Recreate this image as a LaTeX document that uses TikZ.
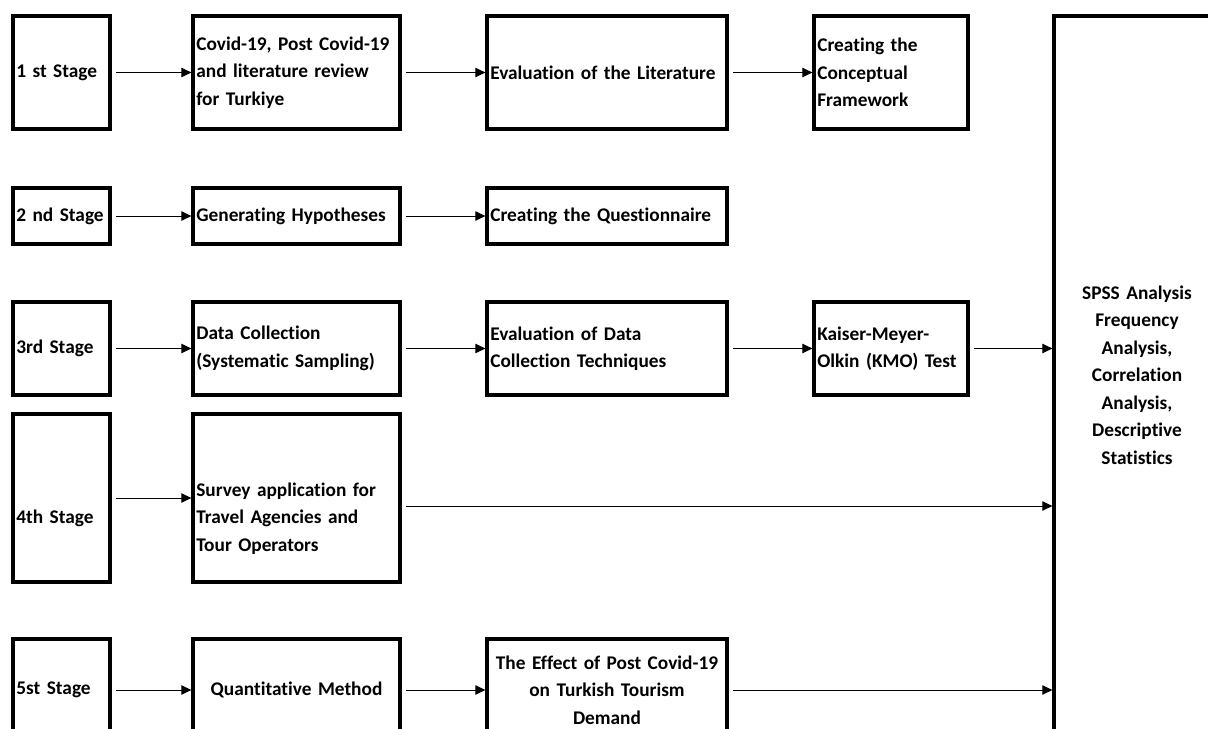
\documentclass[tikz,border=0pt]{standalone}
\usepackage{fontspec}
\setmainfont[Ligatures=NoCommon]{Carlito}
\usetikzlibrary{arrows.meta}

\tikzset{
	flowbox/.style={draw, line width=2.4pt, inner xsep=2.5pt, inner ysep=0pt, align=left,
		font=\bfseries\fontsize{14.5pt}{20.6pt}\selectfont},
	midbox/.style={flowbox, align=center},
	lowtext/.style={text height=41pt},
	flowarrow/.style={-{Triangle[length=7.5pt,width=7pt]}, line width=0.75pt, shorten <=3.5pt}}

\begin{document}
\begin{tikzpicture}[x=0.75pt,y=0.75pt,yscale=-1]
	\useasboundingbox (0,0) rectangle (1208,729);
	\clip (0,0) rectangle (1208,729);
	
	%Stage 1
	\node [flowbox, text width=67.75pt, minimum height=84.75pt] (s1) at (61.5,72.5) {1 st Stage};
	\node [flowbox, text width=150.25pt, minimum height=84.75pt] (a1) at (296.5,72.5) {Covid-19, Post Covid-19\\and literature review\\for Turkiye};
	\node [flowbox, text width=175pt, minimum height=84.75pt] (b1) at (607,72.5) {Evaluation of the Literature};
	\node [flowbox, text width=110.5pt, minimum height=84.75pt] (c1) at (891,72.5) {Creating the\\Conceptual\\Framework};
	%SPSS
	\node [midbox, text width=119.5pt, minimum height=538.5pt] (spss) at (1137,375) {SPSS Analysis\\Frequency\\Analysis,\\Correlation\\Analysis,\\Descriptive\\Statistics};
	
	%Stage 2
	\node [flowbox, text width=67.75pt, minimum height=42pt] (s2) at (61.5,216) {2 nd Stage};
	\node [flowbox, text width=150.25pt, minimum height=42pt] (a2) at (296.5,216) {Generating Hypotheses};
	\node [flowbox, text width=175pt, minimum height=42pt] (b2) at (607,216) {Creating the Questionnaire};
	
	%Stage 3
	\node [flowbox, text width=67.75pt, minimum height=69.75pt] (s3) at (61.5,348.5) {3rd Stage};
	\node [flowbox, text width=150.25pt, minimum height=69.75pt] (a3) at (296.5,348.5) {Data Collection\\(Systematic Sampling)};
	\node [flowbox, text width=175pt, minimum height=69.75pt] (b3) at (607,348.5) {Evaluation of Data\\Collection Techniques};
	\node [flowbox, text width=110.5pt, minimum height=69.75pt] (c3) at (891,348.5) {Kaiser-Meyer-\\Olkin (KMO) Test};
	
	%Stage 4
	\node [flowbox, lowtext, text width=67.75pt, minimum height=126pt] (s4) at (61.5,498) {4th Stage};
	\node [flowbox, lowtext, text width=150.25pt, minimum height=126pt] (a4) at (296.5,498) {Survey application for\\Travel Agencies and\\Tour Operators};
	
	%Stage 5
	\node [flowbox, text width=67.75pt, minimum height=76.5pt] (s5) at (61.5,690) {5st Stage};
	\node [midbox, text width=150.25pt, minimum height=76.5pt] (a5) at (296.5,690) {Quantitative Method};
	\node [midbox, text width=175pt, minimum height=76.5pt] (b5) at (607,690) {The Effect of Post Covid-19\\on Turkish Tourism\\Demand};
	
	%Arrows
	\draw [flowarrow] (s1) -- (a1);
	\draw [flowarrow] (a1) -- (b1);
	\draw [flowarrow] (b1) -- (c1);
	\draw [flowarrow] (s2) -- (a2);
	\draw [flowarrow] (a2) -- (b2);
	\draw [flowarrow] (s3) -- (a3);
	\draw [flowarrow] (a3) -- (b3);
	\draw [flowarrow] (b3) -- (c3);
	\draw [flowarrow] (c3.east) -- (c3.east -| spss.west);
	\draw [flowarrow] (s4) -- (a4);
	\draw [flowarrow] ([yshift=6pt]a4.east) -- ([yshift=6pt]a4.east -| spss.west);
	\draw [flowarrow] (s5) -- (a5);
	\draw [flowarrow] (a5) -- (b5);
	\draw [flowarrow] (b5.east) -- (b5.east -| spss.west);
	
\end{tikzpicture}
\end{document}
